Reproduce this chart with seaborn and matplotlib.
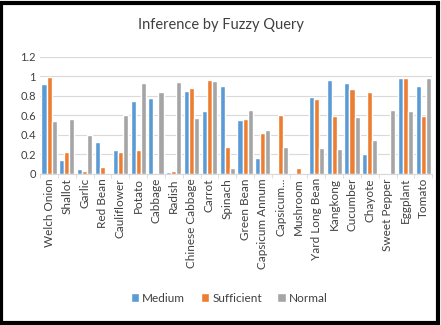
import pandas as pd
import numpy as np
import seaborn as sns
import matplotlib.pyplot as plt
from matplotlib.patches import Rectangle

categories = ['Welch Onion', 'Shallot', 'Garlic', 'Red Bean', 'Cauliflower', 'Potato',
              'Cabbage', 'Radish', 'Chinese Cabbage', 'Carrot', 'Spinach', 'Green Bean',
              'Capsicum Annum', 'Capsicum...', 'Mushroom', 'Yard Long Bean', 'Kangkong',
              'Cucumber', 'Chayote', 'Sweet Pepper', 'Eggplant', 'Tomato']
medium = [0.92, 0.14, 0.05, 0.33, 0.24, 0.75, 0.78, 0.02, 0.85, 0.64, 0.90, 0.55,
          0.16, 0.0, 0.0, 0.79, 0.96, 0.93, 0.20, 0.0, 0.98, 0.90]
sufficient = [0.99, 0.22, 0.03, 0.07, 0.22, 0.24, 0.0, 0.03, 0.88, 0.96, 0.28, 0.56,
              0.42, 0.60, 0.06, 0.77, 0.59, 0.87, 0.84, 0.0, 0.98, 0.59]
normal = [0.54, 0.56, 0.40, 0.0, 0.60, 0.93, 0.84, 0.94, 0.57, 0.95, 0.06, 0.66,
          0.45, 0.28, 0.0, 0.27, 0.26, 0.58, 0.35, 0.66, 0.65, 0.98]
series = ['Medium', 'Sufficient', 'Normal']
colors = ['#5B9BD5', '#ED7D31', '#A5A5A5']

df = pd.DataFrame({'Medium': medium, 'Sufficient': sufficient, 'Normal': normal},
                  index=categories)
long = df.reset_index(names='Veg').melt(id_vars='Veg', var_name='Level', value_name='Value')

sns.set_style('white')
plt.rcParams['font.family'] = ['Lato', 'DejaVu Sans']

fig = plt.figure(figsize=(4.41, 3.25), dpi=100)
ax = fig.add_axes([0.091, 0.465, 0.889, 0.36])
sns.barplot(data=long, x='Veg', y='Value', hue='Level', hue_order=series,
            palette=colors, saturation=1, width=0.85, ax=ax, legend=True)

ax.set_ylim(0, 1.2)
ax.set_yticks(np.arange(0, 1.21, 0.2))
ax.set_yticklabels(['0', '0.2', '0.4', '0.6', '0.8', '1', '1.2'], fontsize=8, color='#404040')
ax.set_xticks(range(len(categories)))
ax.set_xticklabels(categories, rotation=90, fontsize=8.5, color='#404040')
ax.set_xticks(np.arange(-0.5, len(categories), 1), minor=True)
ax.tick_params(axis='both', which='major', length=0, pad=3)
ax.tick_params(axis='x', which='minor', length=3, color='#D9D9D9', bottom=True)
ax.grid(axis='y', color='#D9D9D9', linewidth=0.8)
ax.set_axisbelow(True)
for s in ['top', 'right', 'left']:
    ax.spines[s].set_visible(False)
ax.spines['bottom'].set_color('#D9D9D9')
ax.set_xlabel('')
ax.set_ylabel('')
ax.set_xlim(-0.5, len(categories) - 0.5)

fig.suptitle('Inference by Fuzzy Query', y=0.945, fontsize=10.5, color='#404040')

handles, labels = ax.get_legend_handles_labels()
ax.legend_.remove()
fig.legend(handles, labels, loc='center', bbox_to_anchor=(0.52, 0.083), ncol=3,
           frameon=False, fontsize=8.5, handlelength=0.7, handleheight=0.7,
           handletextpad=0.3, columnspacing=1.3, labelcolor='#404040')

fig.patches.append(Rectangle((0.003, 0.006), 0.991, 0.986, transform=fig.transFigure,
                             fill=False, edgecolor='black', linewidth=3))
fig.savefig('out.png', dpi=100)
